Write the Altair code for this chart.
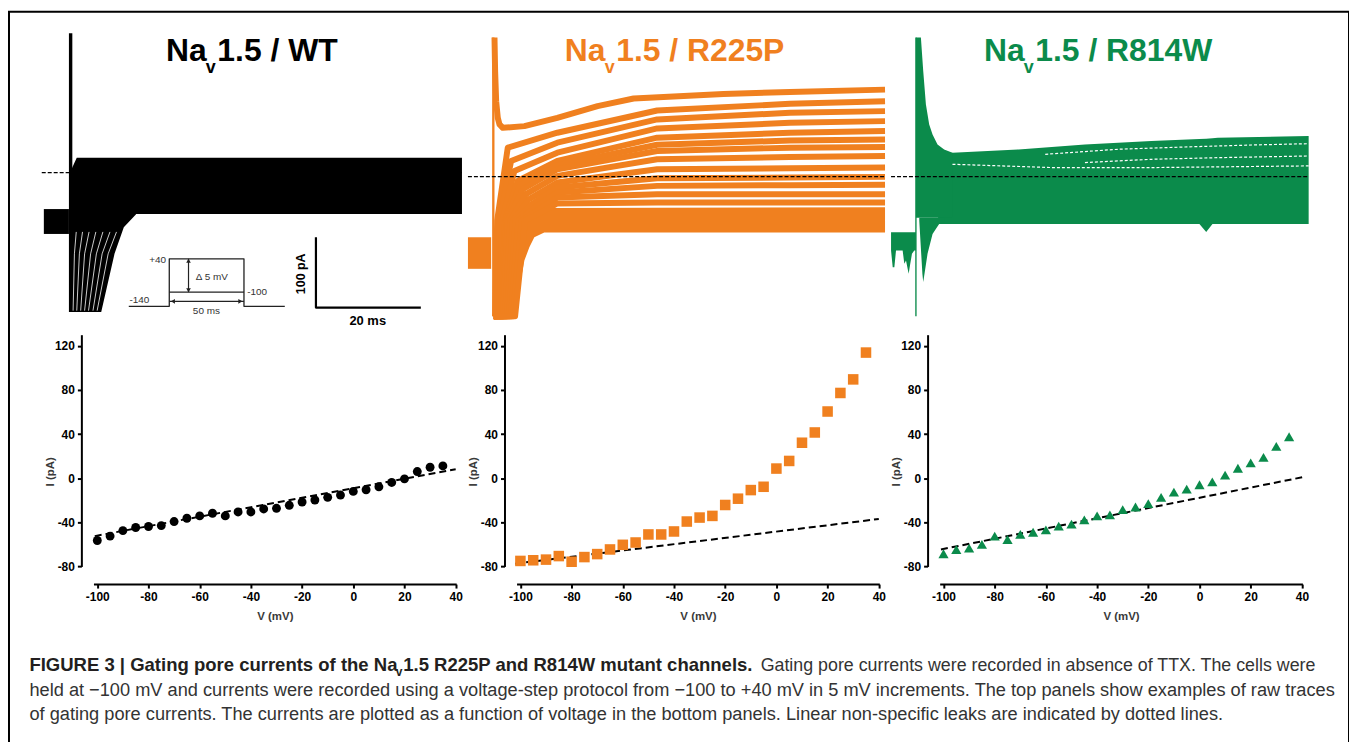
import altair as alt
import pandas as pd

FONT = "Liberation Sans"
BLACK = "#000000"
ORANGE = "#F0801F"
GREEN = "#0B8B4B"
TXT_GREY = "#333333"

# ---------------- bottom panels: I-V data ----------------
V_MV = [-100, -95, -90, -85, -80, -75, -70, -65, -60, -55, -50, -45, -40,
        -35, -30, -25, -20, -15, -10, -5, 0, 5, 10, 15, 20, 25, 30, 35]
I_WT = [-56.5, -52.5, -47.5, -44.7, -43.8, -43.0, -39.3, -36.3, -34.2, -31.8,
        -34.2, -30.6, -30.6, -27.9, -27.3, -24.6, -21.6, -19.8, -17.4, -15.3,
        -12.0, -10.5, -7.8, -3.9, -0.6, 6.0, 9.9, 11.1]
I_R225P = [-75.0, -74.4, -73.8, -70.6, -75.7, -71.5, -68.8, -64.6, -60.4, -58.3,
           -51.0, -51.0, -48.3, -39.3, -35.7, -34.2, -24.3, -18.6, -10.8, -7.8,
           8.7, 15.6, 32.1, 41.4, 60.4, 77.2, 89.5, 113.8]
I_R814W = [-68.5, -64.6, -63.4, -60.0, -52.5, -55.6, -51.0, -49.0, -46.8, -43.5,
           -41.7, -37.8, -34.2, -33.3, -28.5, -26.1, -23.1, -17.4, -12.6, -9.9,
           -6.0, -3.3, 2.7, 9.0, 13.8, 18.9, 28.8, 37.5]
LEAK_V = [[-101, 40], [-102, 40], [-101, 40.5]]
LEAK_I = [[-52.5, 8.1], [-77.5, -37.0], [-64.6, 1.0]]
X_TICKS = [-100, -80, -60, -40, -20, 0, 20, 40]
Y_TICKS = [-80, -40, 0, 40, 80, 120]

# ---------------- top panels: raw traces (t in ms, I in pA) ----------------
# WT (black)
WT_PRE_T, WT_PRE_HI, WT_PRE_LO = [0.0, 4.8], [-47.5, -47.5], [-82.9, -82.9]
WT_SPIKE_T, WT_SPIKE_HI, WT_SPIKE_LO = [4.8, 5.45], [202.6, 202.6], [-193.8, -193.8]
WT_BAND_T, WT_BAND_HI, WT_BAND_LO = [5.33, 6.3, 80.0], [10.0, 25.6, 25.6], [-54.6, -54.6, -54.6]
WT_FAN_T = [5.33, 10.98, 13.52, 15.30, 17.65]
WT_FAN_HI = [-50.0, -50.0, -50.0, -50.0, -50.0]
WT_FAN_LO = [-193.8, -193.8, -111.2, -73.5, -55.0]
WT_GAP_T = [[5.60, 5.85, 6.20], [6.30, 6.80, 7.40], [7.05, 7.80, 8.65], [7.80, 8.95, 9.95],
            [8.55, 10.05, 11.30], [9.40, 11.15, 12.65], [10.20, 12.30, 13.90]]
WT_GAP_I = [[-192.0, -111.2, -80.0], [-192.0, -111.2, -80.0], [-192.0, -111.2, -80.0],
            [-192.0, -111.2, -80.0], [-192.0, -111.2, -80.0], [-192.0, -111.2, -80.0],
            [-192.0, -111.2, -80.0]]
WT_ZERO = 4.4

# R225P (orange)
R225P_PRE_T, R225P_PRE_HI, R225P_PRE_LO = [0.0, 4.44], [-87.6, -87.6], [-132.5, -132.5]
R225P_SPIKE_T, R225P_SPIKE_HI, R225P_SPIKE_LO = [4.63, 5.08], [196.5, 196.5], [-200, -200]
R225P_BAND_T = [9.02, 9.84, 10.8, 11.75, 12.7, 14.6, 79.8]
R225P_BAND_HI = [-64, -60, -55, -52, -50, -46, -45]
R225P_BAND_LO = [-200, -158.4, -120.7, -101.7, -87.6, -81.0, -81.0]
R225P_TR_T = [
    [5.08, 5.20, 5.40, 5.71, 6.04, 6.67, 10.8, 17.1, 24.8, 31.7, 48.9, 61.6, 79.8],
    [4.95, 5.21, 5.59, 7.62, 17.1, 36.2, 61.6, 79.8],
    [4.95, 5.59, 6.10, 8.25, 17.1, 36.2, 61.6, 79.8],
    [4.95, 5.97, 6.60, 8.89, 17.1, 36.2, 61.6, 79.8],
    [4.95, 6.35, 7.11, 9.52, 17.1, 36.2, 61.6, 79.8],
    [4.95, 6.55, 7.36, 10.0, 17.1, 36.2, 61.6, 79.8],
    [4.95, 6.73, 7.62, 10.5, 17.1, 36.2, 61.6, 79.8],
    [4.95, 7.11, 8.13, 11.1, 17.1, 36.2, 61.6, 79.8],
    [4.95, 7.49, 8.63, 11.7, 17.1, 36.2, 61.6, 79.8],
    [4.95, 7.87, 9.14, 12.4, 17.1, 36.2, 61.6, 79.8],
    [4.95, 8.25, 9.65, 13.0, 17.1, 36.2, 61.6, 79.8],
    [4.95, 8.63, 10.29, 13.7, 17.1, 36.2, 61.6, 79.8],
    [4.95, 9.02, 10.92, 14.3, 17.1, 36.2, 61.6, 79.8],
]
R225P_TR_I = [
    [196.5, 148.4, 105.9, 82.2, 72.9, 68.1, 70.5, 82.2, 99.0, 109.7, 116.3, 119.1, 122.4],
    [-200, -200, -64, 39.8, 61.1, 92.7, 102.2, 105.9],
    [-200, -200, -64, 21.0, 46.9, 80.0, 89.4, 91.8],
    [-200, -200, -64, 6.8, 32.7, 67.2, 75.2, 77.6],
    [-200, -200, -64, -7.4, 21.0, 54.0, 61.1, 63.4],
    [-200, -200, -64, -13.0, 15.0, 44.0, 50.0, 51.6],
    [-200, -200, -64, -19.2, 9.1, 35.1, 39.8, 40.8],
    [-200, -200, -64, -26.3, -0.3, 23.3, 26.6, 28.0],
    [-200, -200, -64, -33.3, -9.7, 9.1, 10.6, 11.5],
    [-200, -200, -64, -39.5, -16.8, -3.6, -2.7, -1.7],
    [-200, -200, -64, -44.2, -23.9, -14.5, -13.5, -13.0],
    [-200, -200, -64, -47.5, -31.0, -26.3, -26.3, -26.3],
    [-200, -200, -64, -50.8, -39.5, -38.1, -38.1, -38.1],
]
R225P_ZERO = -1.3

# R814W (green)
R814W_PRE_T = [0.0, 0.32, 0.63, 0.95, 2.22, 2.54, 2.86, 3.37, 3.62, 4.0, 4.44, 4.76]
R814W_PRE_LO = [-106.5, -130.1, -130.1, -106.5, -106.5, -125.4, -120.7, -139.6, -127.8, -111.2, -106.5, -106.5]
R814W_PRE_HI = -80.6
R814W_SPIKE_T, R814W_SPIKE_HI, R814W_SPIKE_LO = [4.63, 4.89], [196.5, 196.5], [-200, -200]
R814W_DECAY_T = [4.76, 5.71, 6.16, 6.67, 7.30, 7.94, 8.89, 10.16, 11.75]
R814W_DECAY_HI = [196.5, 196.5, 148.4, 101.2, 72.8, 58.7, 44.5, 37.4, 32.7]
R814W_DECAY_LO = -60
R814W_DIP_T = [5.4, 6.0, 6.16, 6.98, 7.94, 9.2, 10.2]
R814W_DIP_LO = [-64, -140, -151.4, -111.2, -82.9, -68.8, -66]
R814W_DIP_HI = -60
R814W_BAND_T = [9.0, 11.75, 24.4, 37.1, 49.8, 59.0, 60.3, 61.5, 62.5, 79.9]
R814W_BAND_HI = [30, 32.7, 37.4, 44.5, 49.2, 52.0, 52.6, 53.2, 54.0, 56.3]
R814W_BAND_LO = [-68.8, -68.8, -68.8, -68.8, -68.8, -68.8, -80.0, -68.8, -68.8, -68.8]
R814W_GAP_T = [[29.5, 43.5, 56.2, 68.9, 79.9], [37.1, 49.8, 62.5, 79.9], [11.75, 30.8, 49.8, 79.9]]
R814W_GAP_I = [[30.4, 37.6, 40.8, 43.6, 45.5], [18.6, 23.3, 25.6, 28.0], [16.2, 11.5, 11.5, 13.9]]
R814W_ZERO = -1.3

# voltage protocol inset + scale bars (drawn in WT panel units)
PROTO_T = [16.25, 24.0, 24.0, 38.29, 38.29, 46.1]
PROTO_I = [-185.8, -185.8, -118.3, -118.3, -185.8, -185.8]
PROTO_MID_T, PROTO_MID_I = [24.0, 38.29], [-165.6, -165.6]
ARROW_V_T, ARROW_V_I = [27.68, 27.68], [-118.3, -165.6]
ARROW_H_T, ARROW_H_I = [24.0, 38.29], [-178.7, -178.7]
HEAD_T = [27.68, 27.68, 24.7, 37.6]
HEAD_I = [-121.0, -163.0, -178.7, -178.7]
HEAD_SHAPE = ["triangle-up", "triangle-down", "triangle-left", "triangle-right"]
BAR_T, BAR_I = [52.06, 52.06, 72.13], [-87.7, -187.6, -187.6]

# ---------------- layout (chart pixel space) ----------------
W, H = 1346, 738
TOP_X0 = [35, 461, 886]
TOP_W = 420
TOP_YR = [306, 20]
BOT_X0 = [84.84, 509.84, 934.84]
BOT_W = 364.36
BOT_YR = [557.3, 324.5]
Y_AXIS_X = [72.7, 497.7, 922.7]
X_AXIS_Y = 575


def tx(k):
    return alt.X("t:Q", axis=None,
                 scale=alt.Scale(domain=[0, 80], range=[TOP_X0[k], TOP_X0[k] + TOP_W], nice=False, zero=False))


def ty(field="I"):
    return alt.Y(f"{field}:Q", axis=None,
                 scale=alt.Scale(domain=[-200, 205], range=TOP_YR, nice=False, zero=False))


def area(k, t, hi, lo, color):
    df = pd.DataFrame({"t": t, "hi": hi, "lo": lo})
    return alt.Chart(df).mark_area(color=color, opacity=1).encode(x=tx(k), y=ty("hi"), y2="lo:Q")


def traces_df(ts, Is):
    rows = []
    for k, (tt, ii) in enumerate(zip(ts, Is)):
        for j, (a, b) in enumerate(zip(tt, ii)):
            rows.append({"k": k, "i": j, "t": a, "I": b})
    return pd.DataFrame(rows)


def lines(k, ts, Is, color, width, dash=None):
    mk = dict(color=color, strokeWidth=width, strokeJoin="round", strokeCap="butt")
    if dash:
        mk["strokeDash"] = dash
    return alt.Chart(traces_df(ts, Is)).mark_line(**mk).encode(
        x=tx(k), y=ty(), detail="k:N", order="i:Q")


def ttext(k, s, t, I, size, weight="normal", color=TXT_GREY, align="left", angle=0):
    df = pd.DataFrame({"s": [s], "t": [t], "I": [I]})
    return alt.Chart(df).mark_text(font=FONT, fontSize=size, fontWeight=weight, color=color,
                                   align=align, baseline="middle", angle=angle).encode(
        x=tx(k), y=ty(), text="s:N")


def txt(s, x, y, size, color=BLACK, weight="normal", align="left", baseline="alphabetic"):
    return alt.Chart(pd.DataFrame({"s": [s]})).mark_text(
        font=FONT, fontSize=size, fontWeight=weight, color=color, align=align, baseline=baseline
    ).encode(text="s:N", x=alt.value(x), y=alt.value(y))


LABEL_EXPR = "replace(datum.label, '\u2212', '-')"


def bx(k, axis=None):
    return alt.X("V:Q", axis=axis,
                 scale=alt.Scale(domain=[-101.5, 40.2], range=[BOT_X0[k], BOT_X0[k] + BOT_W], nice=False, zero=False))


def by(axis=None):
    return alt.Y("I:Q", axis=axis, scale=alt.Scale(domain=[-80, 130], range=BOT_YR, nice=False, zero=False))


def iv_panel(k, I, shape, color, size):
    leak = alt.Chart(pd.DataFrame({"V": LEAK_V[k], "I": LEAK_I[k]})).mark_line(
        color=BLACK, strokeWidth=2, strokeDash=[7, 4]).encode(x=bx(k), y=by())
    xa = alt.Axis(orient="bottom", offset=X_AXIS_Y - H, values=X_TICKS, title="V (mV)",
                  titleY=33, titleBaseline="middle", labelExpr=LABEL_EXPR)
    ya = alt.Axis(orient="left", offset=-Y_AXIS_X[k], values=Y_TICKS, title="I (pA)",
                  titleX=-31, titleY=461.7, titleAngle=270, titleAlign="center",
                  titleBaseline="middle", labelExpr=LABEL_EXPR)
    pts = alt.Chart(pd.DataFrame({"V": V_MV, "I": I})).mark_point(
        shape=shape, filled=True, color=color, size=size, opacity=1).encode(x=bx(k, xa), y=by(ya))
    return [leak, pts]


def zero_line(k, level, t0=0.0, t1=80.0):
    df = pd.DataFrame({"t": [t0, t1], "I": [level, level]})
    return alt.Chart(df).mark_line(color=BLACK, strokeWidth=1.3, strokeDash=[4, 2]).encode(x=tx(k), y=ty())


layers = []
# ---- WT top panel ----
layers += [
    area(0, WT_PRE_T, WT_PRE_HI, WT_PRE_LO, BLACK),
    area(0, WT_BAND_T, WT_BAND_HI, WT_BAND_LO, BLACK),
    area(0, WT_FAN_T, WT_FAN_HI, WT_FAN_LO, BLACK),
    area(0, WT_SPIKE_T, WT_SPIKE_HI, WT_SPIKE_LO, BLACK),
    lines(0, WT_GAP_T, WT_GAP_I, "white", 0.8),
    zero_line(0, WT_ZERO, -0.4, 80.0),
]
# ---- R225P top panel ----
layers += [
    area(1, R225P_PRE_T, R225P_PRE_HI, R225P_PRE_LO, ORANGE),
    area(1, R225P_BAND_T, R225P_BAND_HI, R225P_BAND_LO, ORANGE),
    area(1, R225P_SPIKE_T, R225P_SPIKE_HI, R225P_SPIKE_LO, ORANGE),
    lines(1, R225P_TR_T, R225P_TR_I, ORANGE, 6.0),
    zero_line(1, R225P_ZERO),
]
# ---- R814W top panel ----
layers += [
    area(2, R814W_PRE_T, R814W_PRE_HI, R814W_PRE_LO, GREEN),
    area(2, R814W_BAND_T, R814W_BAND_HI, R814W_BAND_LO, GREEN),
    area(2, R814W_DECAY_T, R814W_DECAY_HI, R814W_DECAY_LO, GREEN),
    area(2, R814W_DIP_T, R814W_DIP_HI, R814W_DIP_LO, GREEN),
    area(2, R814W_SPIKE_T, R814W_SPIKE_HI, R814W_SPIKE_LO, GREEN),
    lines(2, R814W_GAP_T, R814W_GAP_I, "white", 1.2, dash=[3, 2]),
    zero_line(2, R814W_ZERO),
]
# ---- protocol inset and scale bars (WT panel units) ----
layers += [
    lines(0, [PROTO_T], [PROTO_I], "#222222", 1.3),
    lines(0, [PROTO_MID_T, ARROW_V_T, ARROW_H_T], [PROTO_MID_I, ARROW_V_I, ARROW_H_I], "#222222", 1.2),
    alt.Chart(pd.DataFrame({"t": HEAD_T, "I": HEAD_I, "sh": HEAD_SHAPE})).mark_point(
        filled=True, color="#222222", size=22, opacity=1).encode(
        x=tx(0), y=ty(), shape=alt.Shape("sh:N", scale=None)),
    lines(0, [BAR_T], [BAR_I], BLACK, 2.2),
    ttext(0, "+40", 23.37, -119.3, 10, align="right"),
    ttext(0, "\u0394 5 mV", 29.08, -144.3, 10),
    ttext(0, "-100", 38.9, -165.5, 10),
    ttext(0, "-140", 16.38, -177.3, 10),
    ttext(0, "50 ms", 31.1, -192.4, 10, align="center"),
    ttext(0, "100 pA", 49.27, -139.6, 12.5, weight="bold", color=BLACK, align="center", angle=270),
    ttext(0, "20 ms", 61.97, -206.6, 13, weight="bold", color=BLACK, align="center"),
]
# ---- bottom I-V panels ----
layers += iv_panel(0, I_WT, "circle", BLACK, 80)
layers += iv_panel(1, I_R225P, "square", ORANGE, 112)
layers += iv_panel(2, I_R814W, "triangle-up", GREEN, 105)

# ---- panel titles ----
for x0, name, col in [(157.7, "1.5 / WT", BLACK), (558.3, "1.5 / R225P", ORANGE), (979.3, "1.5 / R814W", GREEN)]:
    layers += [
        txt("Na", x0, 50, 32, col, "bold"),
        txt("v", x0 + 40, 61.7, 18, col, "bold"),
        txt(name, x0 + 51.6, 50, 32, col, "bold"),
    ]

# ---- caption ----
CAP_X = 20.5
layers += [
    txt("FIGURE 3 | Gating pore currents of the Na", CAP_X, 662.7, 18.6, "#231F20", "bold"),
    txt("v", 388.5, 667.5, 12, "#231F20", "bold"),
    txt("1.5 R225P and R814W mutant channels.", 396.0, 662.7, 18.6, "#231F20", "bold"),
    txt("Gating pore currents were recorded in absence of TTX. The cells were", 755.0, 662.7, 17.9, TXT_GREY),
    txt("held at \u2212100 mV and currents were recorded using a voltage-step protocol from \u2212100 to +40 mV "
        "in 5 mV increments. The top panels show examples of raw traces", CAP_X, 687.7, 18.3, TXT_GREY),
    txt("of gating pore currents. The currents are plotted as a function of voltage in the bottom panels. "
        "Linear non-specific leaks are indicated by dotted lines.", CAP_X, 711.7, 18.3, TXT_GREY),
]

chart = alt.layer(*layers).resolve_scale(x="independent", y="independent").properties(
    width=W, height=H,
    autosize=alt.AutoSizeParams(type="none"),
    padding={"left": 1, "top": 2, "right": 0, "bottom": 0},
    background="white",
).configure_view(
    stroke=BLACK, strokeWidth=2
).configure_axis(
    grid=False, domainColor=BLACK, domainWidth=2, tickColor=BLACK, tickWidth=2, tickSize=4,
    labelFont=FONT, labelFontSize=12, labelFontWeight="bold", labelColor=BLACK, labelPadding=3,
    titleFont=FONT, titleFontSize=11.5, titleFontWeight="bold", titleColor="#3a3a3a",
    labelOverlap=False, labelFlush=False,
)

chart.save("out.html", embed_options={"renderer": "svg", "actions": False})
